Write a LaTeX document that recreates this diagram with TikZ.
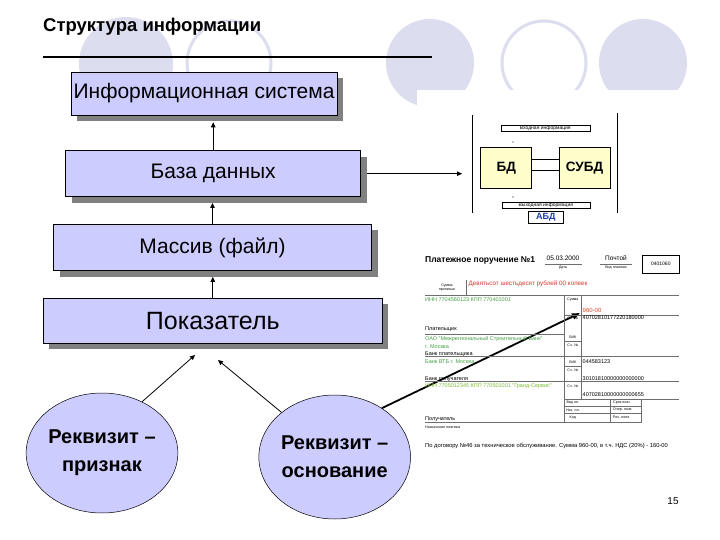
\documentclass[tikz,border=0pt]{standalone}
\usepackage{fontspec}
\setmainfont{Liberation Sans}
\usetikzlibrary{shapes.geometric,shadows,arrows.meta,calc}
\definecolor{lav}{RGB}{204,204,255}
\definecolor{bgc}{RGB}{221,221,240}
\definecolor{bdy}{RGB}{255,255,204}
\definecolor{fgreen}{RGB}{70,160,70}
\definecolor{fred}{RGB}{220,50,50}
\definecolor{fline}{RGB}{110,110,110}
\definecolor{abdblue}{RGB}{30,60,170}
\newcommand{\fsz}[1]{\fontsize{#1}{#1}\selectfont}
\tikzset{
  lbox/.style={draw=black, line width=0.6pt, fill=lav, inner sep=0pt,
    drop shadow={shadow xshift=6pt, shadow yshift=-6pt, opacity=1, fill=gray}, font=\fsz{21}},
  req/.style={ellipse, draw=black, line width=0.5pt, fill=lav, inner sep=0pt, align=center,
    font=\bfseries\fontsize{20}{28}\selectfont},
  arr/.style={-{Triangle[length=5pt,width=4.5pt]}, line width=0.8pt},
  arrb/.style={-{Triangle[length=8pt,width=6pt]}, line width=1.8pt},
  smallbox/.style={draw=black, line width=0.4pt, inner sep=0.3pt, font=\fsz{5}},
  ft/.style={anchor=west, inner sep=0pt, font=\fsz{5.5}},
  fc/.style={inner sep=0pt, font=\fsz{3.6}},
  fl/.style={draw=fline, line width=0.5pt}
}
\begin{document}
\begin{tikzpicture}[x=1pt,y=-1pt]
\useasboundingbox (0,0) rectangle (720,540);
\fill[white] (0,0) rectangle (720,540);
% background circles
\fill[bgc] (126,64) circle (47);
\draw[bgc, line width=3pt] (229,63) circle (42);
\fill[bgc] (430,63) circle (44);
\draw[bgc, line width=3pt] (544,63) circle (42);
\fill[bgc] (643,63) circle (44);
\fill[white] (417,90) rectangle (700,235);
% title
\node[anchor=west, inner sep=0pt, font=\bfseries\fsz{18.5}] (title) at (43,27) {Структура информации};
\draw[line width=2pt] (43,57) -- (432,57);
% stacked boxes
\node[lbox, minimum width=266pt, minimum height=43pt] (is) at (204,93.5) {Информационная система};
\node[lbox, minimum width=295pt, minimum height=46pt] (bd) at (213.2,173.7) {База данных};
\node[lbox, minimum width=318pt, minimum height=46pt] (mf) at (212.5,247.5) {Массив (файл)};
\node[lbox, minimum width=339pt, minimum height=45pt, font=\fsz{25}] (pk) at (212.8,320.8) {Показатель};
\draw[arr] (bd.north) -- ($(bd.north |- is.south)+(0,7)$);
\draw[arr] (mf.north) -- ($(mf.north |- bd.south)+(0,6)$);
\draw[arr] (pk.north) -- ($(pk.north |- mf.south)+(0,6)$);
% ellipses
\node[req, minimum width=142pt, minimum height=120pt] (e1) at (102,453) {Реквизит –\\признак};
\node[req, minimum width=143pt, minimum height=124pt] (e2) at (334.7,457) {Реквизит –\\основание};
\coordinate (t1) at (195,355);
\coordinate (t2) at (218,360);
\coordinate (t3) at (580,313);
\draw[arr] (e1.52) -- (t1);
\draw[arr] (e2.140) -- (t2);
\draw[arrb] (e2.46) -- (t3);
% BD diagram
\draw[line width=0.6pt] (472.5,115) -- (472.5,213);
\draw[line width=0.6pt] (617,113) -- (617,213);
\coordinate (bdin) at (462,173.7);
\draw[arr] ([xshift=6pt]bd.east) -- (bdin);
\node[smallbox, minimum width=89pt, minimum height=6pt] (inp) at (545.3,128) {Входная информация};
\node[draw=black, line width=0.5pt, fill=bdy, minimum width=51pt, minimum height=40.6pt, inner sep=0pt, font=\bfseries\fsz{13.5}] (bdb) at (506.2,168) {БД};
\node[draw=black, line width=0.5pt, fill=bdy, minimum width=51pt, minimum height=40.6pt, inner sep=0pt, font=\bfseries\fsz{13.5}] (subd) at (584.5,168) {СУБД};
\draw[line width=0.5pt] ($(bdb.east)+(0,-8.7)$) -- ($(subd.west)+(0,-8.7)$);
\draw[line width=0.5pt] ($(bdb.east)+(0,2)$) -- ($(subd.west)+(0,2)$);
\node[smallbox, minimum width=88pt, minimum height=6pt] (outp) at (545.8,205.3) {Выходная информация};
\node[draw=black, line width=0.5pt, minimum width=35pt, minimum height=11.6pt, inner sep=0pt, font=\bfseries\fsz{9}, text=abdblue] (abd) at (545.8,217.5) {АБД};
\fill (513,142) circle (0.6);
\fill (513,197) circle (0.6);
% payment order
\node[anchor=west, inner sep=0pt, font=\bfseries\fsz{8.5}] (f1) at (425,260.5) {Платежное поручение №1};
\node[inner sep=0pt, font=\fsz{6.5}] (f2) at (563,258.5) {05.03.2000};
\draw[fl] (545,264) -- (582,264);
\node[fc] (f3) at (563,268) {Дата};
\node[inner sep=0pt, font=\fsz{6.5}] (f4) at (616,258.5) {Почтой};
\draw[fl] (600,264) -- (632,264);
\node[fc] (f5) at (616,268) {Вид платежа};
\node[draw=black, line width=0.5pt, minimum width=37pt, minimum height=18pt, inner sep=0pt, font=\fsz{5}] (f6) at (660.8,264.2) {0401060};
\node[fc, align=center] (f7) at (447,287.5) {Сумма\\прописью};
\draw[fl] (466.7,280) -- (466.7,295);
\node[ft, font=\fsz{6.3}, text=fred] (f8) at (468.5,284) {Девятьсот шестьдесят рублей 00 копеек};
\draw[fl] (425,295) -- (679,295);
\node[ft, text=fgreen] (f9) at (425,300) {ИНН 7704560123 КПП 770401001};
\draw[fl] (564,295) -- (564,422.7);
\draw[fl] (581.7,295) -- (581.7,399);
\node[fc] (f10) at (572.8,300) {Сумма};
\node[ft, font=\fsz{6}, text=fred!80!orange] (f11) at (582.5,310.5) {960-00};
\draw[fl] (564,315) -- (679,315);
\node[fc] (f12) at (572.8,318) {Сч. №};
\node[ft] (f13) at (582.5,318) {40702810177220180000};
\node[ft] (f14) at (425,329.5) {Плательщик};
\draw[fl] (425,334) -- (564,334);
\node[ft, text=fgreen] (f15) at (425,339) {ОАО "Межрегиональный Строительный Банк"};
\node[ft, text=fgreen] (f16) at (425,346.5) {г. Москва};
\node[ft] (f17) at (425,354) {Банк плательщика};
\node[fc] (f18) at (572.8,337) {БИК};
\draw[fl] (564,341.5) -- (581.7,341.5);
\node[fc] (f19) at (572.8,345) {Сч. №};
\draw[fl] (425,356.7) -- (679,356.7);
\node[ft, text=fgreen] (f20) at (425,361.5) {Банк ВТБ г. Москва};
\node[fc] (f21) at (572.8,362) {БИК};
\node[ft] (f22) at (582.5,362) {044583123};
\draw[fl] (564,366) -- (581.7,366);
\node[fc] (f23) at (572.8,370) {Сч. №};
\node[ft] (f24) at (425,379) {Банк получателя};
\node[ft] (f25) at (582.5,378.5) {30101810000000000000};
\draw[fl] (425,381.7) -- (679,381.7);
\node[ft, text=fgreen!70!yellow] (f26) at (425,386) {ИНН 7705012345 КПП 770501001 "Гранд-Сервис"};
\node[fc] (f27) at (572.8,386) {Сч. №};
\node[ft] (f28) at (582.5,395) {40702810000000000655};
\draw[fl] (564,399) -- (679,399);
\draw[fl] (564,406) -- (641.7,406);
\draw[fl] (564,413.5) -- (641.7,413.5);
\draw[fl] (610,399) -- (610,422.7);
\draw[fl] (641.7,399) -- (641.7,422.7);
\node[fc] (f29) at (572.8,402.5) {Вид оп.};
\node[fc] (f30) at (572.8,410) {Наз. пл.};
\node[fc] (f31) at (572.8,417.5) {Код};
\node[fc, anchor=west] (f32) at (613,402.5) {Срок плат.};
\node[fc, anchor=west] (f33) at (613,410) {Очер. плат.};
\node[fc, anchor=west] (f34) at (613,417.5) {Рез. поле};
\node[ft] (f35) at (425,419.5) {Получатель};
\draw[fl] (425,422.7) -- (641.7,422.7);
\node[fc, anchor=west] (f36) at (425,427) {Назначение платежа};
\node[ft, font=\fsz{5.8}] (f37) at (425,445.5) {По договору №46 за техническое обслуживание. Сумма 960-00, в т.ч. НДС (20\%) - 160-00};
% page number
\node[inner sep=0pt, font=\fsz{10}] (pn) at (673,501) {15};
\end{tikzpicture}
\end{document}
